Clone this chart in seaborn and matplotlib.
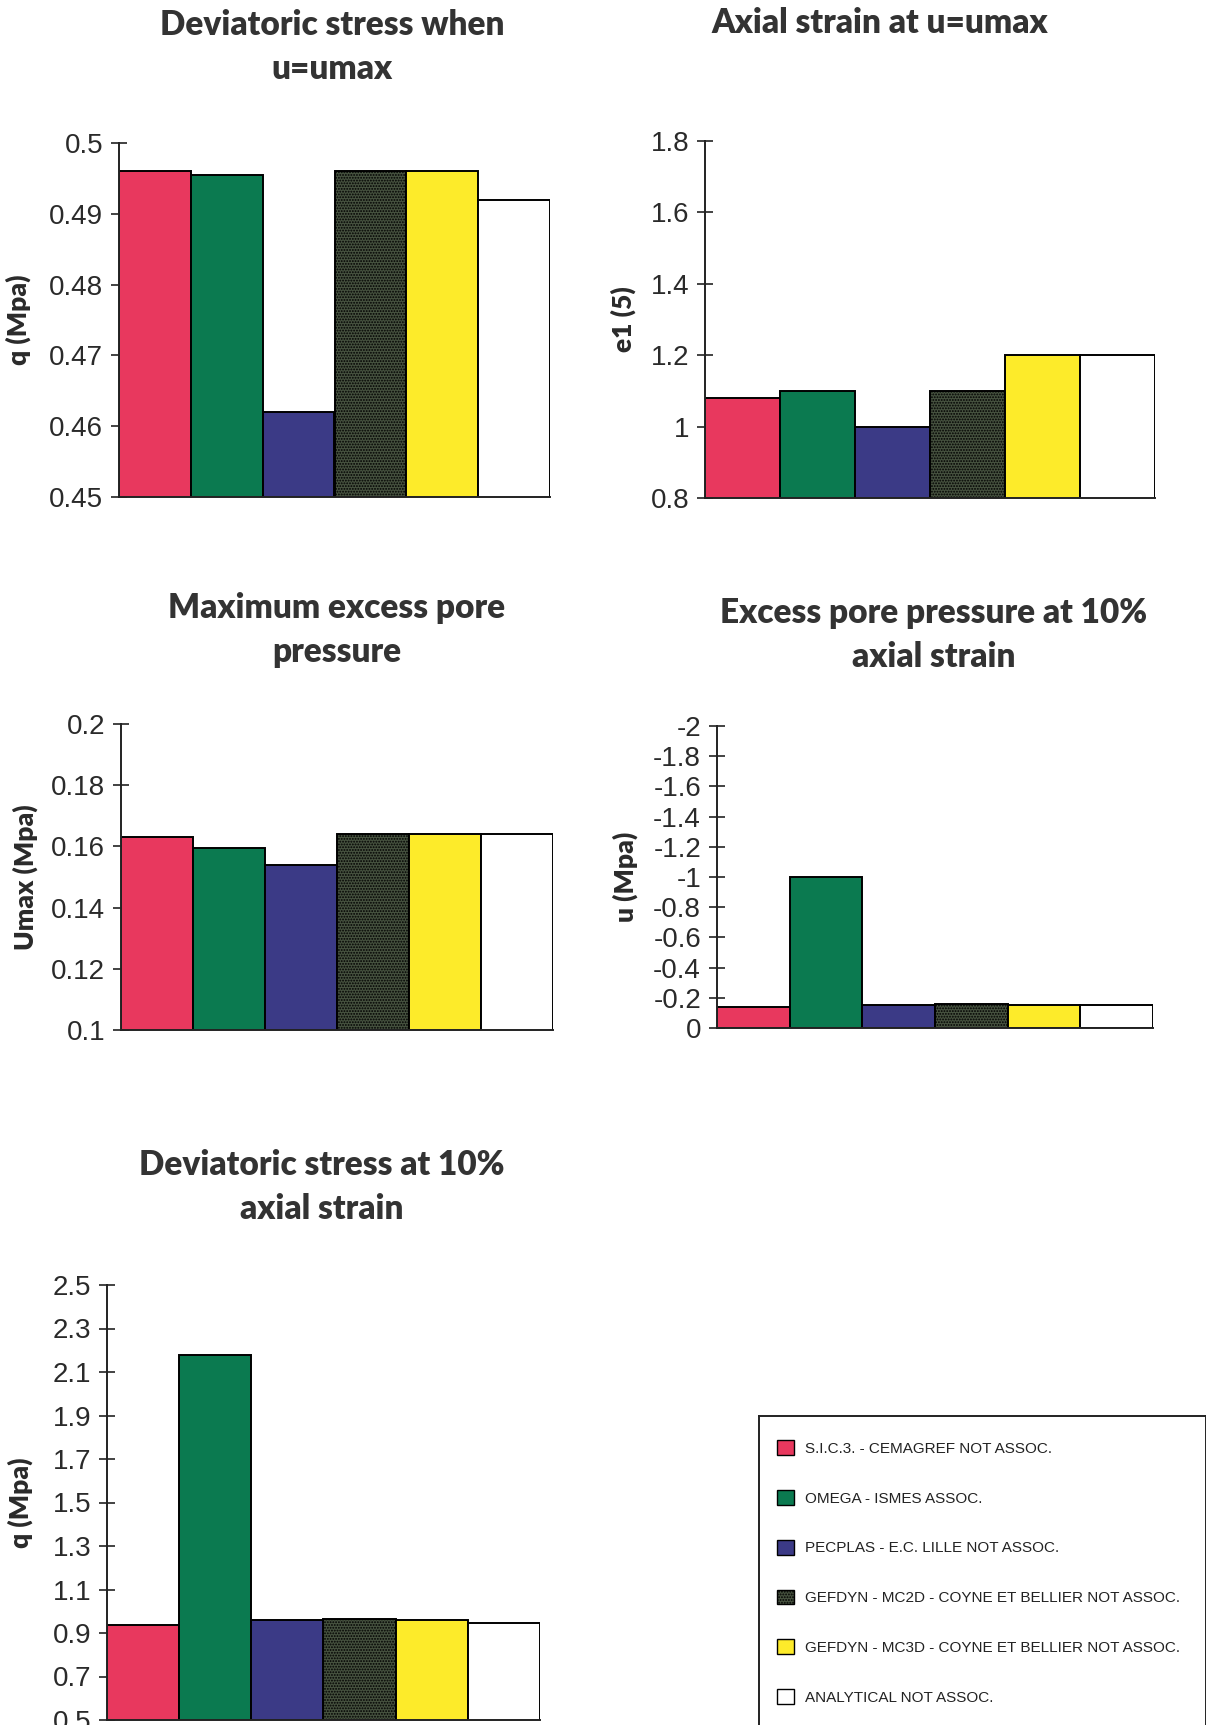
import matplotlib
matplotlib.use("Agg")
import matplotlib.pyplot as plt
import matplotlib.patches as mpatches
import seaborn as sns
import pandas as pd

# ---------------- data ----------------
methods = ["S.I.C.3. - CEMAGREF NOT ASSOC.",
           "OMEGA - ISMES ASSOC.",
           "PECPLAS - E.C. LILLE NOT ASSOC.",
           "GEFDYN - MC2D - COYNE ET BELLIER NOT ASSOC.",
           "GEFDYN - MC3D - COYNE ET BELLIER NOT ASSOC.",
           "ANALYTICAL NOT ASSOC."]
colors = ["#E8385E", "#0B7A50", "#3B3A86", "#46523F", "#FDEB2A", "#FFFFFF"]

q_umax = [0.496, 0.4955, 0.462, 0.496, 0.496, 0.492]
e1_umax = [1.08, 1.10, 1.00, 1.10, 1.20, 1.20]
u_max = [0.163, 0.1595, 0.154, 0.164, 0.164, 0.164]
u_10 = [-0.14, -1.00, -0.155, -0.16, -0.155, -0.155]
q_10 = [0.935, 2.18, 0.96, 0.965, 0.958, 0.945]

ticks1 = [0.45, 0.46, 0.47, 0.48, 0.49, 0.50]
labels1 = ["0.45", "0.46", "0.47", "0.48", "0.49", "0.5"]
ticks2 = [0.8, 1.0, 1.2, 1.4, 1.6, 1.8]
labels2 = ["0.8", "1", "1.2", "1.4", "1.6", "1.8"]
ticks3 = [0.10, 0.12, 0.14, 0.16, 0.18, 0.20]
labels3 = ["0.1", "0.12", "0.14", "0.16", "0.18", "0.2"]
ticks4 = [0, -0.2, -0.4, -0.6, -0.8, -1.0, -1.2, -1.4, -1.6, -1.8, -2.0]
labels4 = ["0", "-0.2", "-0.4", "-0.6", "-0.8", "-1", "-1.2", "-1.4", "-1.6", "-1.8", "-2"]
ticks5 = [0.5, 0.7, 0.9, 1.1, 1.3, 1.5, 1.7, 1.9, 2.1, 2.3, 2.5]
labels5 = ["0.5", "0.7", "0.9", "1.1", "1.3", "1.5", "1.7", "1.9", "2.1", "2.3", "2.5"]

titles = ["Deviatoric stress when\nu=umax", "Axial strain at u=umax",
          "Maximum excess pore\npressure", "Excess pore pressure at 10%\naxial strain",
          "Deviatoric stress at 10%\naxial strain"]
ylabels = ["q (Mpa)", "e1 (5)", "Umax (Mpa)", "u (Mpa)", "q (Mpa)"]

# ---------------- style ----------------
sns.set_theme(style="white")
plt.rcParams["font.family"] = ["Liberation Sans", "DejaVu Sans"]
plt.rcParams["hatch.linewidth"] = 0.9

W, H = 1206, 1725
fig = plt.figure(figsize=(W / 100, H / 100), dpi=100)


def rect(l, r, t, b):
    return [l / W, 1 - b / H, (r - l) / W, (b - t) / H]


# axes rect, values, ylim, ticks, labels, ylabel x (pixels)
specs = [
    (rect(119, 550, 143, 497), q_umax, (0.45, 0.50), ticks1, labels1, 31),
    (rect(705, 1155, 141, 498), e1_umax, (0.8, 1.8), ticks2, labels2, 636),
    (rect(121, 553, 724, 1030), u_max, (0.10, 0.20), ticks3, labels3, 38),
    (rect(717, 1153, 726, 1028), u_10, (0, -2.0), ticks4, labels4, 638),
    (rect(107, 540, 1285, 1720), q_10, (0.5, 2.5), ticks5, labels5, 33),
]

title_pos = [(332, 9), (880, 7), (337, 592), (934, 597), (322, 1149)]

for i, (r, vals, ylim, ticks, tlabels, lxp) in enumerate(specs):
    ax = fig.add_axes(r)
    df = pd.DataFrame({"method": methods, "value": vals})
    sns.barplot(data=df, x="method", y="value", hue="method", palette=colors,
                width=1.0, edgecolor="black", linewidth=1.4, ax=ax,
                legend=False, saturation=1)
    ax.patches[3].set_hatch("......")
    ax.set_xlim(-0.5, 5.5)
    ax.set_ylim(*ylim)
    ax.set_yticks(ticks)
    ax.set_yticklabels(tlabels, fontsize=20, color="#2a2a2a")
    ax.set_xticks([])
    ax.set_xlabel("")
    ax.set_ylabel(ylabels[i], fontsize=19, fontweight="heavy", color="#2a2a2a",
                  family=["Lato", "DejaVu Sans"])
    left_px = r[0] * W
    width_px = r[2] * W
    ax.yaxis.set_label_coords((lxp - left_px) / width_px, 0.5)
    for s in ["top", "right"]:
        ax.spines[s].set_visible(False)
    for s in ["left", "bottom"]:
        ax.spines[s].set_color("#222222")
        ax.spines[s].set_linewidth(1.4)
    ax.tick_params(axis="y", direction="inout", length=11, width=1.2,
                   color="#222222", left=True, pad=6)
    tx, ty = title_pos[i]
    fig.text(tx / W, 1 - ty / H, titles[i], ha="center", va="top",
             fontsize=24, fontweight="heavy", color="#333333",
             linespacing=1.45, family=["Lato", "DejaVu Sans"])

# ---------------- legend ----------------
lax = fig.add_axes([759 / W, 0, (W - 759) / W, (H - 1416) / H])
lax.set_xticks([])
lax.set_yticks([])
lax.set_facecolor("white")
for s in ["left", "top", "right"]:
    lax.spines[s].set_color("#222222")
    lax.spines[s].set_linewidth(1.4)
lax.spines["bottom"].set_visible(False)
handles = []
for m, c in zip(methods, colors):
    p = mpatches.Patch(facecolor=c, edgecolor="black", linewidth=1.0, label=m)
    handles.append(p)
handles[3].set_hatch("......")
lax.legend(handles=handles, loc="upper left", bbox_to_anchor=(0.04, 0.921),
           borderaxespad=0, borderpad=0, frameon=False, fontsize=11,
           handlelength=1.1, handleheight=1.1, handletextpad=0.75,
           labelspacing=2.24, labelcolor="#222222")

fig.savefig("out.png", dpi=100)
